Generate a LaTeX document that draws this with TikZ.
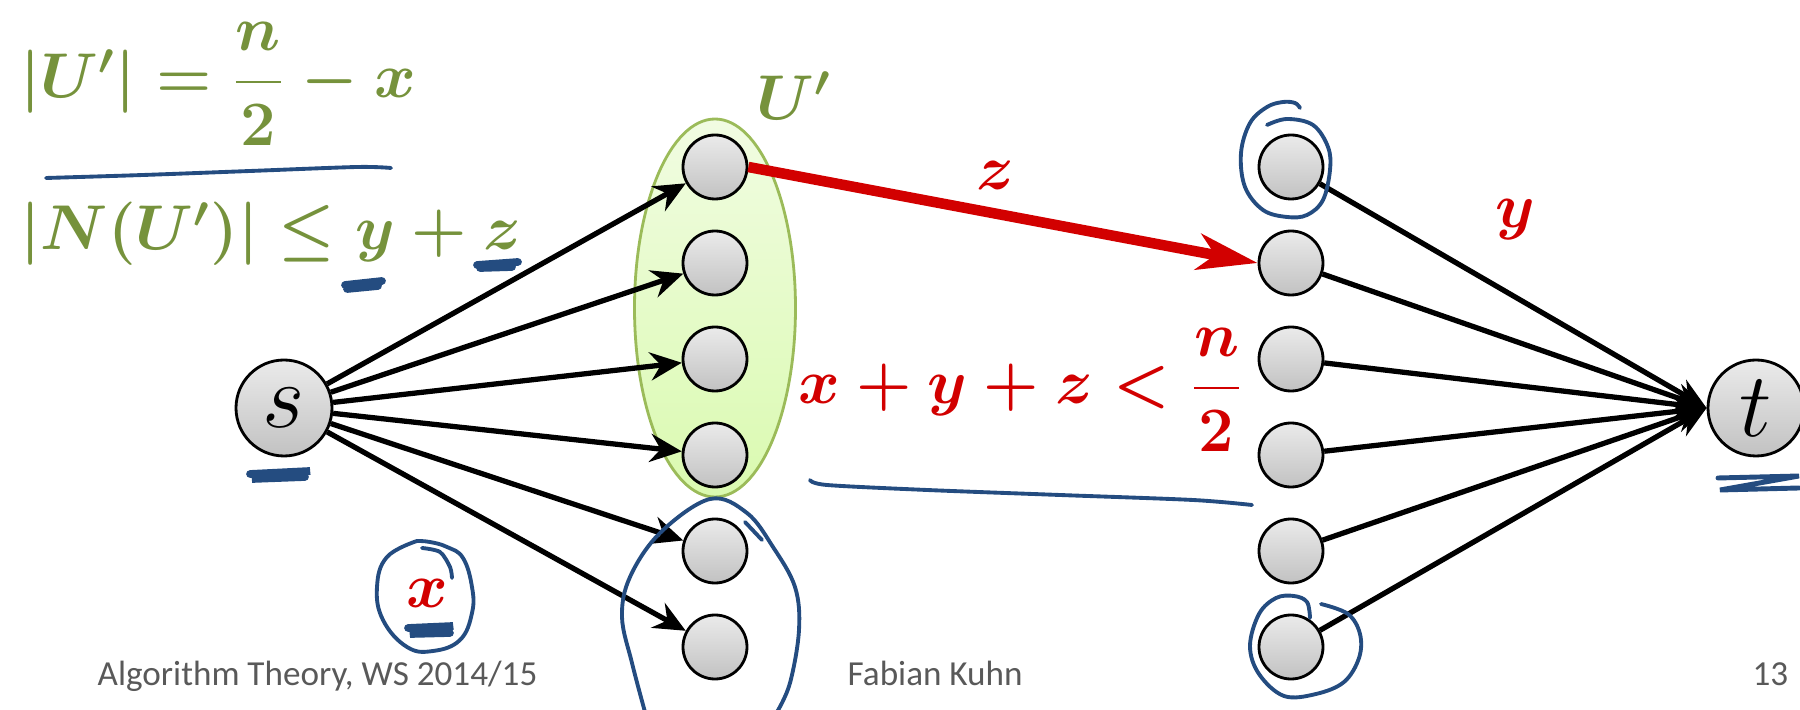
\RequirePackage{fix-cm}
\documentclass[tikz,border=0pt]{standalone}
\usepackage{amsmath,amssymb}
\usepackage[no-math]{fontspec}
\newfontfamily\footfont{Carlito}
\usetikzlibrary{arrows.meta,positioning}
\definecolor{olivegreen}{RGB}{118,146,60}
\definecolor{slidered}{RGB}{210,0,0}
\definecolor{inkblue}{RGB}{36,76,128}
\definecolor{footgray}{RGB}{89,89,89}
\definecolor{setgreen}{RGB}{155,187,89}

\begin{document}
\begin{tikzpicture}[every node/.style={inner sep=0pt},
	vtx/.style={circle, draw, line width=0.8pt, minimum size=0.64cm, top color=gray!16, bottom color=gray!48},
	term/.style={vtx, minimum size=0.96cm, font=\fontsize{26}{26}\selectfont},
	edge/.style={line width=1.5pt, -{Stealth[length=9pt,width=8pt,inset=3pt]}},
	ink/.style={inkblue, line width=1.1pt, line cap=round, line join=round},
	scrawl/.style={inkblue, line width=2.2pt, line cap=round},
	mathlbl/.style={font=\fontsize{18}{22}\selectfont\boldmath},
	foot/.style={footgray, font=\footfont\fontsize{10}{12}\selectfont}]
	\useasboundingbox (0,0) rectangle (18,7.1);
	% the set U'
	\draw[setgreen, line width=0.8pt, top color={rgb,255:red,241;green,252;blue,226}, bottom color={rgb,255:red,218;green,250;blue,176}] (7.15,4.02) ellipse (0.805 and 1.89);
	% vertices
	\node[term] (s) at (2.84,3.02) {$s$};
	\node[term] (t) at (17.56,3.02) {$t$};
	\foreach \i in {1,...,6} {
		\node[vtx] (u\i) at (7.15,{5.43-0.96*(\i-1)}) {};
		\node[vtx] (w\i) at (12.91,{5.43-0.96*(\i-1)}) {};
	}
	% edges
	\foreach \i in {1,...,6} {
		\draw[edge] (s) -- (u\i);
		\draw[edge] (w\i) -- (t.west);
	}
	\draw[slidered, line width=3pt, -{Stealth[length=0.6cm,width=0.36cm,inset=0.17cm]}] (u1.east) -- (w2.west);
	% labels
	\node[mathlbl, olivegreen] (ulbl) at (7.94,6.14) {$U'$};
	\node[mathlbl, slidered] (zlbl) at (9.95,5.35) {$z$};
	\node[mathlbl, slidered] (ylbl) at (15.15,4.90) {$y$};
	\node[mathlbl, slidered] (xlbl) at (4.27,1.17) {$x$};
	\node[mathlbl, slidered] (sum) at (10.21,3.20) {$x+y+z<\dfrac{n}{2}$};
	\node[mathlbl, olivegreen, anchor=west] (size) at (0.20,6.26) {$|U'|=\dfrac{n}{2}-x$};
	\node[mathlbl, olivegreen, anchor=base west] (nbr) at (0.20,4.60) {$|N(U')|\le y+z$};
	% footer
	\node[foot, anchor=base west] (course) at (0.97,0.24) {Algorithm Theory, WS 2014/15};
	\node[foot, anchor=base west] (author) at (8.47,0.24) {Fabian Kuhn};
	\node[foot, anchor=base east] (page) at (17.89,0.24) {13};
	% pen marks
	\draw[ink] plot[smooth] coordinates {(0.46,5.32) (1.43,5.35) (2.50,5.39) (3.57,5.43) (3.91,5.42)};
	\draw[scrawl] (3.45,4.25) -- (3.82,4.29) (3.47,4.21) -- (3.78,4.24);
	\draw[scrawl] (4.77,4.45) -- (5.18,4.48) (4.80,4.42) -- (5.12,4.43);
	\draw[scrawl] (2.50,2.36) -- (3.10,2.39) -- (2.52,2.31) -- (3.05,2.33);
	\draw[scrawl, line width=1.4pt] (17.18,2.32) -- (17.99,2.34) -- (17.20,2.20) -- (17.99,2.22);
	\draw[scrawl] (4.08,0.82) -- (4.53,0.84) -- (4.10,0.76) -- (4.50,0.77);
	\draw[ink] plot[smooth] coordinates {(4.22,1.62) (4.40,1.58) (4.50,1.43) (4.52,1.32)};
	\draw[ink] plot[smooth, tension=0.7] coordinates {(4.17,1.69) (3.87,1.53) (3.77,1.23) (3.83,0.90) (4.07,0.63) (4.33,0.59) (4.60,0.70) (4.72,0.97) (4.72,1.23) (4.63,1.52) (4.47,1.63) (4.30,1.68) (4.17,1.69)};
	\draw[ink] plot[smooth, tension=0.6] coordinates {(6.45,-0.02) (6.32,0.47) (6.22,0.93) (6.30,1.33) (6.60,1.77) (7.10,2.11) (7.47,1.97) (7.73,1.63) (7.95,1.23) (7.99,0.80) (7.90,0.27) (7.77,-0.02)};
	\draw[ink] (7.45,1.88) -- (7.62,1.70);
	\draw[ink] plot[smooth] coordinates {(8.10,2.30) (8.27,2.25) (9.27,2.20) (10.60,2.15) (11.93,2.10) (12.52,2.05)};
	\draw[ink] plot[smooth, tension=0.6] coordinates {(12.67,5.85) (12.87,5.91) (13.13,5.85) (13.28,5.63) (13.30,5.40) (13.23,5.10) (13.07,4.95) (12.87,4.93) (12.63,5.00) (12.45,5.23) (12.41,5.57) (12.50,5.87) (12.67,6.03) (12.83,6.08) (12.95,6.07) (13.00,6.02)};
	\draw[ink] plot[smooth, tension=0.6] coordinates {(13.21,1.06) (13.48,0.96) (13.60,0.76) (13.59,0.52) (13.44,0.28) (13.16,0.16) (12.84,0.14) (12.59,0.36) (12.50,0.64) (12.59,0.96) (12.76,1.12) (12.94,1.14) (13.07,1.08) (13.10,0.92)};
\end{tikzpicture}
\end{document}
